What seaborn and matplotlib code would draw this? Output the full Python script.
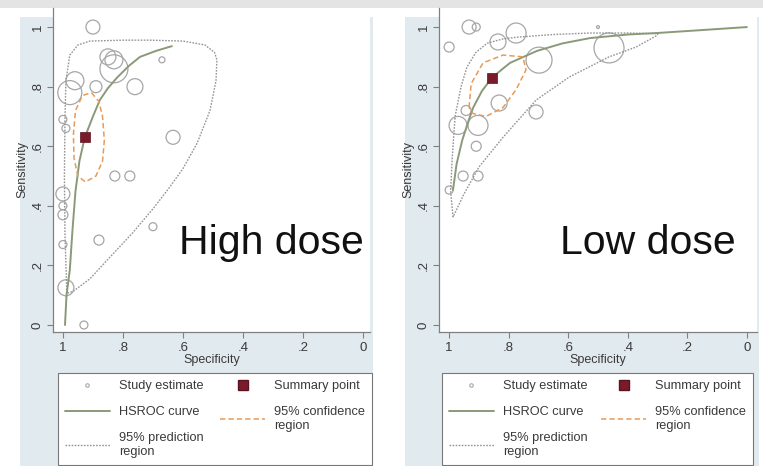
import matplotlib
matplotlib.use("Agg")
import matplotlib.pyplot as plt
import pandas as pd
import seaborn as sns
from matplotlib.patches import Rectangle
from matplotlib.lines import Line2D

# ---- High dose: study estimates (specificity, sensitivity, study weight) ----
high_spec = [0.90, 0.85, 0.83, 0.83, 0.67, 0.76, 0.96, 0.977, 0.89, 1.00, 0.99,
             0.633, 0.827, 0.777, 1.00, 1.00, 1.00, 0.88, 0.70, 1.00, 0.99, 0.93]
high_sens = [1.00, 0.90, 0.89, 0.86, 0.89, 0.80, 0.82, 0.78, 0.80, 0.69, 0.66,
             0.63, 0.50, 0.50, 0.44, 0.40, 0.37, 0.285, 0.33, 0.27, 0.125, 0.00]
high_weight = [49, 64, 81, 196, 9, 64, 81, 144, 36, 16, 16,
               49, 25, 25, 49, 16, 25, 25, 16, 16, 64, 16]
high_summary_spec = [0.927]
high_summary_sens = [0.63]
high_hsroc_spec = [0.993, 0.988, 0.977, 0.968, 0.958, 0.945, 0.927, 0.90, 0.877,
                   0.85, 0.82, 0.78, 0.743, 0.69, 0.637]
high_hsroc_sens = [0.00, 0.10, 0.185, 0.32, 0.45, 0.55, 0.63, 0.70, 0.755,
                   0.795, 0.83, 0.87, 0.90, 0.92, 0.936]
high_conf_spec = [0.905, 0.88, 0.868, 0.862, 0.868, 0.89, 0.925, 0.95, 0.963,
                  0.965, 0.958, 0.935, 0.905]
high_conf_sens = [0.78, 0.75, 0.70, 0.62, 0.55, 0.50, 0.48, 0.50, 0.56,
                  0.64, 0.72, 0.77, 0.78]
high_pred_spec = [0.987, 0.993, 0.995, 0.993, 0.99, 0.977, 0.95, 0.91, 0.80, 0.71,
                  0.60, 0.527, 0.495, 0.487, 0.49, 0.51, 0.553, 0.60, 0.65, 0.70,
                  0.767, 0.843, 0.91, 0.967, 0.987]
high_pred_sens = [0.107, 0.30, 0.50, 0.70, 0.82, 0.906, 0.94, 0.953, 0.956, 0.956,
                  0.953, 0.94, 0.915, 0.89, 0.82, 0.72, 0.61, 0.525, 0.455, 0.39,
                  0.31, 0.228, 0.155, 0.112, 0.107]

# ---- Low dose ----
low_spec = [0.933, 0.909, 1.00, 0.836, 0.775, 0.698, 0.463, 0.50, 0.832, 0.708,
            0.903, 0.97, 0.943, 0.909, 0.953, 0.903, 1.00]
low_sens = [1.00, 1.00, 0.933, 0.95, 0.98, 0.889, 0.93, 1.00, 0.745, 0.715,
            0.67, 0.67, 0.72, 0.60, 0.50, 0.50, 0.453]
low_weight = [49, 16, 25, 64, 100, 169, 225, 2, 64, 49,
              100, 81, 25, 25, 25, 25, 16]
low_summary_spec = [0.856]
low_summary_sens = [0.83]
low_hsroc_spec = [0.987, 0.975, 0.956, 0.935, 0.919, 0.89, 0.856, 0.82, 0.795,
                  0.75, 0.705, 0.62, 0.527, 0.40, 0.302, 0.15, 0.0]
low_hsroc_sens = [0.453, 0.54, 0.62, 0.685, 0.73, 0.785, 0.83, 0.86, 0.88,
                  0.90, 0.92, 0.945, 0.963, 0.975, 0.98, 0.99, 1.0]
low_conf_spec = [0.933, 0.926, 0.886, 0.819, 0.752, 0.742, 0.775, 0.819, 0.876,
                 0.92, 0.933]
low_conf_sens = [0.73, 0.81, 0.88, 0.906, 0.90, 0.856, 0.79, 0.73, 0.70,
                 0.71, 0.73]
low_pred_spec = [0.987, 0.995, 0.99, 0.98, 0.96, 0.94, 0.91, 0.872, 0.82, 0.772,
                 0.65, 0.527, 0.40, 0.30, 0.30, 0.372, 0.463, 0.597, 0.708, 0.819,
                 0.90, 0.95, 0.987]
low_pred_sens = [0.362, 0.45, 0.554, 0.70, 0.80, 0.866, 0.915, 0.946, 0.96, 0.966,
                 0.975, 0.98, 0.98, 0.978, 0.973, 0.933, 0.90, 0.832, 0.755, 0.63,
                 0.53, 0.44, 0.362]

tick_values = [0, 0.2, 0.4, 0.6, 0.8, 1.0]
tick_labels = ["0", ".2", ".4", ".6", ".8", "1"]
panel_titles = ["High dose", "Low dose"]
legend_labels = ["Study estimate", "HSROC curve", "95% prediction\nregion",
                 "Summary point", "95% confidence\nregion"]

# ---- styling ----
sns.set_style("ticks")
plt.rcParams["font.family"] = ["Liberation Sans", "DejaVu Sans"]

W, H = 763, 466
fig = plt.figure(figsize=(W / 100, H / 100), dpi=100)
fig.patch.set_facecolor("white")

REGION = "#e1eaee"
AXIS = "#808080"
TEXT = "#3a3a3a"
CIRCLE = "#a6a6a6"
HSROC = "#8a9a78"
CONF = "#e89a58"
PRED = "#959595"
SUMMARY = "#7a1b2a"
PRED_DASH = (0, (1.2, 1.0))
CONF_DASH = (0, (3.5, 2))


def fx(px):
    return px / W


def fy(py):
    return 1 - py / H


# top band and graph regions
fig.patches.append(Rectangle((0, fy(8)), 1, 8 / H, transform=fig.transFigure,
                             facecolor="#e4e4e4", edgecolor="none", zorder=-10))
for x0, x1 in [(20, 373), (405, 759)]:
    fig.patches.append(Rectangle((fx(x0), 0), fx(x1 - x0), fy(17),
                                 transform=fig.transFigure, facecolor=REGION,
                                 edgecolor="none", zorder=-10))

axes_specs = [
    dict(box=(53, 370), xlim=(1.033, -0.023), center=271,
         data=(high_spec, high_sens, high_weight, high_summary_spec, high_summary_sens,
               high_hsroc_spec, high_hsroc_sens, high_conf_spec, high_conf_sens,
               high_pred_spec, high_pred_sens),
         legend_box=(58, 372)),
    dict(box=(439, 757), xlim=(1.034, -0.034), center=648,
         data=(low_spec, low_sens, low_weight, low_summary_spec, low_summary_sens,
               low_hsroc_spec, low_hsroc_sens, low_conf_spec, low_conf_sens,
               low_pred_spec, low_pred_sens),
         legend_box=(442, 753)),
]

for spec, title in zip(axes_specs, panel_titles):
    left, right = spec["box"]
    ax = fig.add_axes([fx(left), fy(332), fx(right - left), (332 - 8) / H])
    ax.set_facecolor("white")
    (s_spec, s_sens, s_w, sm_spec, sm_sens, h_spec, h_sens,
     c_spec, c_sens, p_spec, p_sens) = spec["data"]

    studies = pd.DataFrame({"spec": s_spec, "sens": s_sens, "weight": s_w})
    sns.scatterplot(data=studies, x="spec", y="sens", size="weight",
                    sizes=(0, 466), size_norm=(0, 225), facecolor="none",
                    edgecolor=CIRCLE, linewidth=0.9, legend=False, ax=ax, zorder=2)

    sns.lineplot(x=p_spec, y=p_sens, sort=False, estimator=None, color=PRED,
                 linestyle=PRED_DASH, linewidth=1.0, ax=ax, zorder=3)
    sns.lineplot(x=h_spec, y=h_sens, sort=False, estimator=None, color=HSROC,
                 linewidth=1.4, ax=ax, zorder=4)
    sns.lineplot(x=c_spec, y=c_sens, sort=False, estimator=None, color=CONF,
                 linestyle=CONF_DASH, linewidth=1.1, ax=ax, zorder=5)
    sns.scatterplot(x=sm_spec, y=sm_sens, marker="s", s=42, color=SUMMARY,
                    edgecolor="#5a1420", linewidth=0.5, ax=ax, zorder=6, legend=False)

    ax.set_xlim(*spec["xlim"])
    ax.set_ylim(-0.0235, 1.064)
    ax.set_xticks(tick_values)
    ax.set_xticklabels(tick_labels)
    ax.set_yticks(tick_values)
    ax.set_yticklabels(tick_labels, rotation=90, va="center")
    ax.tick_params(axis="both", length=4.5, width=0.8, color=AXIS,
                   labelsize=9.5, labelcolor=TEXT)
    ax.tick_params(axis="x", pad=2.5)
    ax.tick_params(axis="y", pad=2.0)
    sns.despine(ax=ax)
    for side in ("left", "bottom"):
        ax.spines[side].set_color(AXIS)
        ax.spines[side].set_linewidth(0.9)
    ax.set_xlabel("Specificity", fontsize=9, color=TEXT, labelpad=0)
    ax.set_ylabel("Sensitivity", fontsize=9, color=TEXT, labelpad=2.5)

    handles = [
        Line2D([], [], marker="o", linestyle="none", markersize=2.5,
               markerfacecolor="none", markeredgecolor=CIRCLE, markeredgewidth=0.8),
        Line2D([], [], color=HSROC, linewidth=1.4),
        Line2D([], [], color=PRED, linestyle=PRED_DASH, linewidth=1.0),
        Line2D([], [], marker="s", linestyle="none", markersize=6.5,
               color=SUMMARY, markeredgecolor="#5a1420"),
        Line2D([], [], color=CONF, linestyle=CONF_DASH, linewidth=1.1),
    ]
    lx0, lx1 = spec["legend_box"]
    leg = ax.legend(handles, legend_labels, ncol=2, mode="expand",
                    loc="upper left",
                    bbox_to_anchor=(fx(lx0), fy(465), fx(lx1 - lx0), (465 - 373) / H),
                    bbox_transform=fig.transFigure, fontsize=9.2,
                    frameon=True, fancybox=False, edgecolor="#777777",
                    framealpha=1, borderpad=0.55, labelspacing=1.1,
                    handlelength=3.5, handletextpad=0.7, columnspacing=1.0,
                    borderaxespad=0)
    leg.get_frame().set_linewidth(0.8)
    for t in leg.get_texts():
        t.set_color(TEXT)

    fig.text(fx(spec["center"]), fy(254), title, ha="center", va="baseline",
             fontsize=29.5, color="#111111")

fig.savefig("out.png", dpi=100)
